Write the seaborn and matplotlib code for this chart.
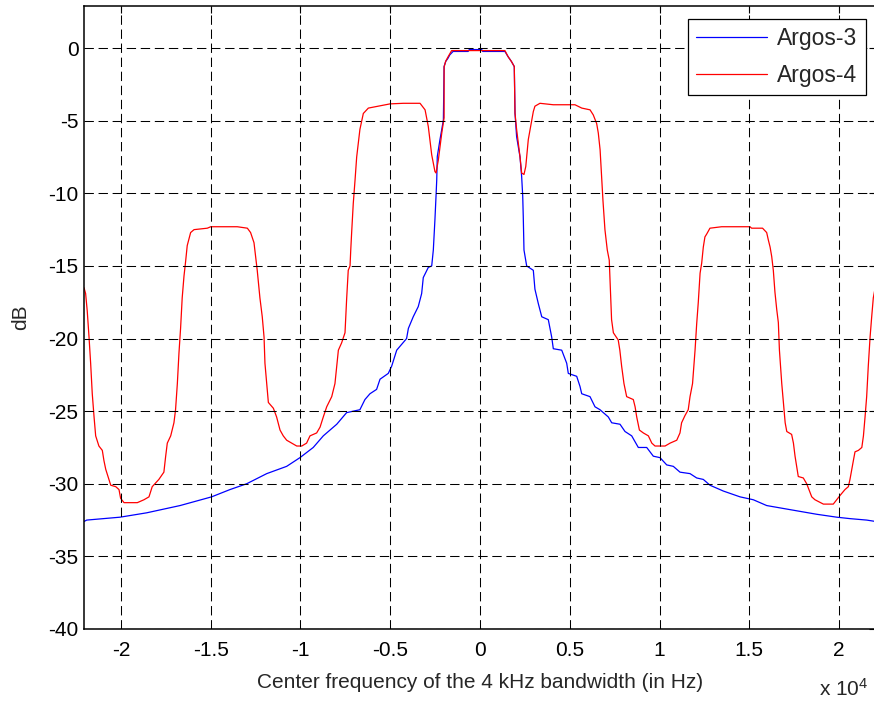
import numpy as np
import pandas as pd
import matplotlib
matplotlib.use("Agg")
import matplotlib.pyplot as plt
import seaborn as sns

# ---------------- data (frequency in Hz, level in dB) ----------------
argos3_freq = [
    -22060, -21910, -20050, -18570, -16710, -14950, -13930, -13000, -11880, -10770,
    -10030, -9290, -8730, -7980, -7430, -6690, -6410, -6130, -5760, -5570,
    -5110, -4920, -4640, -4090, -3990, -3720, -3440, -3250, -3160, -2880,
    -2690, -2600, -2510, -2450, -2410, -2380, -2230, -2130, -2040, -2000,
    -1910, -1780, -1680, -1500, -660, -600, 100, 150, 1390, 1560,
    1750, 1910, 1950, 2040, 2230, 2320, 2380, 2410, 2450, 2600,
    2970, 3060, 3250, 3440, 3805, 3994, 4084, 4552, 4830, 4919,
    5387, 5571, 5666, 6128, 6407, 6685, 7148, 7337, 7799, 8078,
    8451, 8819, 9287, 9655, 10028, 10401, 10769, 11142, 11699, 12072,
    12440, 12813, 13554, 14485, 15226, 15972, 16897, 17827, 18758, 19872,
    20613, 21543, 22060,
]
argos3_db = [
    -32.6, -32.5, -32.3, -32.0, -31.5, -30.9, -30.4, -30.0, -29.3, -28.8,
    -28.2, -27.5, -26.7, -25.9, -25.1, -24.9, -24.2, -23.8, -23.5, -22.8,
    -22.4, -21.9, -20.8, -20.0, -19.3, -18.5, -17.8, -16.9, -15.8, -15.1,
    -15.0, -13.9, -11.8, -10.2, -9.07, -7.47, -6.3, -5.6, -4.94, -1.26,
    -0.92, -0.69, -0.46, -0.23, -0.23, -0.1, -0.1, -0.23, -0.23, -0.58,
    -0.92, -1.27, -4.48, -6.1, -7.5, -8.84, -10.2, -11.6, -13.9, -15.0,
    -15.3, -16.6, -17.6, -18.5, -18.7, -19.9, -20.7, -20.8, -21.7, -22.4,
    -22.6, -23.3, -23.8, -24.0, -24.7, -24.9, -25.4, -25.8, -25.9, -26.4,
    -26.7, -27.5, -27.5, -28.1, -28.2, -28.7, -28.8, -29.2, -29.3, -29.6,
    -29.7, -30.1, -30.5, -30.9, -31.1, -31.5, -31.7, -31.9, -32.1, -32.3,
    -32.4, -32.5, -32.6,
]

argos4_freq = [
    -22060, -21970, -21880, -21780, -21690, -21600, -21500, -21410, -21230, -21040,
    -20950, -20850, -20670, -20570, -20290, -20110, -20020, -19830, -19090, -18720,
    -18440, -18260, -17890, -17610, -17510, -17420, -17230, -17050, -16960, -16860,
    -16770, -16680, -16590, -16490, -16400, -16310, -16120, -15930, -15190, -15000,
    -13520, -12960, -12780, -12590, -12500, -12410, -12260, -12130, -12030, -11980,
    -11880, -11790, -11510, -11330, -11140, -10960, -10770, -10490, -10210, -9930,
    -9660, -9470, -9100, -8910, -8730, -8540, -8260, -8080, -7890, -7710,
    -7520, -7430, -7340, -7240, -7200, -7150, -7060, -6960, -6870, -6690,
    -6500, -6220, -5010, -4270, -3340, -3060, -2880, -2690, -2510, -2450,
    -2320, -2130, -2000, -2000, -1910, -1780, -1580, 1390, 1560, 1750,
    1910, 1950, 2040, 2130, 2230, 2320, 2450, 2550, 2600, 2690,
    2790, 2880, 2970, 3060, 3340, 4080, 5290, 5670, 6130, 6310,
    6500, 6590, 6690, 6850, 6960, 7090, 7200, 7280, 7330, 7430,
    7700, 7790, 7890, 8020, 8170, 8540, 8640, 8730, 8880, 9100,
    9380, 9570, 9750, 10310, 10590, 10960, 11140, 11230, 11420, 11600,
    11700, 11840, 11980, 12070, 12160, 12260, 12350, 12440, 12530, 12630,
    12810, 13460, 15040, 15130, 15740, 15970, 16060, 16160, 16250, 16340,
    16430, 16530, 16620, 16680, 16810, 16900, 17000, 17090, 17360, 17460,
    17550, 17640, 17730, 18010, 18200, 18480, 18660, 19130, 19680, 19870,
    20060, 20330, 20520, 20610, 20710, 20800, 20890, 21080, 21270, 21360,
    21450, 21540, 21630, 21730, 21820, 21910, 22060,
]
argos4_db = [
    -16.5, -16.9, -18.1, -19.9, -21.7, -23.8, -25.4, -26.7, -27.4, -27.7,
    -28.4, -29.0, -29.7, -30.1, -30.2, -30.4, -31.0, -31.3, -31.3, -31.1,
    -30.9, -30.2, -29.7, -29.2, -28.1, -27.2, -26.7, -25.8, -24.9, -23.1,
    -21.0, -19.3, -17.2, -15.7, -14.7, -13.6, -12.7, -12.5, -12.4, -12.3,
    -12.3, -12.4, -12.7, -13.4, -14.35, -15.3, -17.2, -18.5, -19.9, -21.7,
    -23.1, -24.4, -24.8, -25.4, -26.3, -26.7, -27.0, -27.2, -27.4, -27.4,
    -27.2, -26.7, -26.5, -26.1, -25.4, -24.7, -24.0, -23.1, -20.8, -20.3,
    -19.6, -17.3, -15.3, -15.0, -13.9, -12.7, -10.7, -9.07, -7.5, -5.6,
    -4.5, -4.13, -3.84, -3.8, -3.8, -4.25, -5.4, -7.35, -8.5, -8.6,
    -7.7, -5.85, -4.8, -1.3, -0.9, -0.6, -0.17, -0.17, -0.58, -0.92,
    -1.27, -4.48, -5.6, -6.5, -7.5, -8.6, -8.7, -8.15, -7.5, -6.3,
    -5.6, -4.94, -4.37, -4.0, -3.8, -3.9, -3.9, -4.13, -4.25, -4.6,
    -5.2, -5.85, -7.0, -10.5, -12.5, -13.9, -14.6, -17.1, -18.7, -19.6,
    -20.1, -20.8, -21.9, -23.1, -24.0, -24.2, -24.7, -25.4, -26.3, -26.5,
    -26.7, -27.2, -27.4, -27.4, -27.2, -27.0, -26.5, -25.8, -25.3, -24.9,
    -24.0, -23.1, -20.8, -19.0, -17.5, -15.5, -14.8, -13.7, -13.0, -12.8,
    -12.4, -12.3, -12.3, -12.4, -12.4, -12.7, -13.2, -13.7, -14.35, -15.3,
    -16.8, -18.0, -18.9, -20.8, -23.1, -24.4, -25.8, -26.4, -26.6, -27.2,
    -28.1, -28.8, -29.5, -29.6, -30.0, -30.9, -31.1, -31.4, -31.4, -31.1,
    -30.8, -30.4, -30.2, -29.7, -29.0, -28.4, -27.8, -27.7, -27.5, -26.7,
    -25.4, -24.0, -21.9, -19.9, -18.5, -17.2, -16.2,
]

series_names = ["Argos-3", "Argos-4"]
xtick_values = [-20000, -15000, -10000, -5000, 0, 5000, 10000, 15000, 20000]
xtick_labels = ["-2", "-1.5", "-1", "-0.5", "0", "0.5", "1", "1.5", "2"]
ytick_values = [-40, -35, -30, -25, -20, -15, -10, -5, 0]
ytick_labels = ["-40", "-35", "-30", "-25", "-20", "-15", "-10", "-5", "0"]
x_label = "Center frequency of the 4 kHz bandwidth (in Hz)"
y_label = "dB"
x_multiplier = r"x 10$^4$"

# ---------------- styling ----------------
sns.set_style("white")
plt.rcParams["font.family"] = ["Liberation Sans", "DejaVu Sans"]
plt.rcParams["mathtext.fontset"] = "custom"
plt.rcParams["mathtext.rm"] = "Liberation Sans"
plt.rcParams["mathtext.it"] = "Liberation Sans"

df = pd.concat([
    pd.DataFrame({"freq": argos3_freq, "db": argos3_db, "series": series_names[0]}),
    pd.DataFrame({"freq": argos4_freq, "db": argos4_db, "series": series_names[1]}),
], ignore_index=True)

fig = plt.figure(figsize=(8.74, 7.02), dpi=100)
ax = fig.add_axes([84 / 874, 73 / 702, (876 - 84) / 874, (629 - 6) / 702])

sns.lineplot(data=df, x="freq", y="db", hue="series",
             palette={"Argos-3": "#0000ff", "Argos-4": "#ff0000"},
             estimator=None, sort=False, linewidth=0.9, ax=ax, legend=False)

ax.set_xlim(-22060, 22060)
ax.set_ylim(-40, 2.9)

ax.set_xticks(xtick_values)
ax.set_xticklabels(xtick_labels)
ax.set_yticks(ytick_values)
ax.set_yticklabels(ytick_labels)

ax.grid(True, color="black", linestyle=(0, (9, 4.5)), linewidth=0.75)
ax.set_axisbelow(False)

ax.tick_params(axis="both", direction="in", length=5, width=0.8, colors="black",
               labelsize=15, top=True, right=True)
ax.tick_params(axis="x", pad=9)
ax.tick_params(axis="y", pad=4)

for s in ax.spines.values():
    s.set_color("black")
    s.set_linewidth(1.1)

ax.set_xlabel(x_label, fontsize=15, labelpad=9)
ax.set_ylabel(y_label, fontsize=15, labelpad=13)

from matplotlib.lines import Line2D
handles = [Line2D([], [], color="#0000ff", lw=0.9),
           Line2D([], [], color="#ff0000", lw=0.9)]
leg = ax.legend(handles, series_names, loc="upper right",
                bbox_to_anchor=(0.987, 0.979), borderaxespad=0,
                fontsize=16.5, fancybox=False, framealpha=1, edgecolor="black",
                handlelength=3.1, handletextpad=0.45, labelspacing=0.6,
                borderpad=0.35)
leg.get_frame().set_linewidth(0.9)

fig.text(819 / 874, 2 / 702, x_multiplier, fontsize=15, ha="left", va="bottom")

fig.savefig("out.png", dpi=100)
